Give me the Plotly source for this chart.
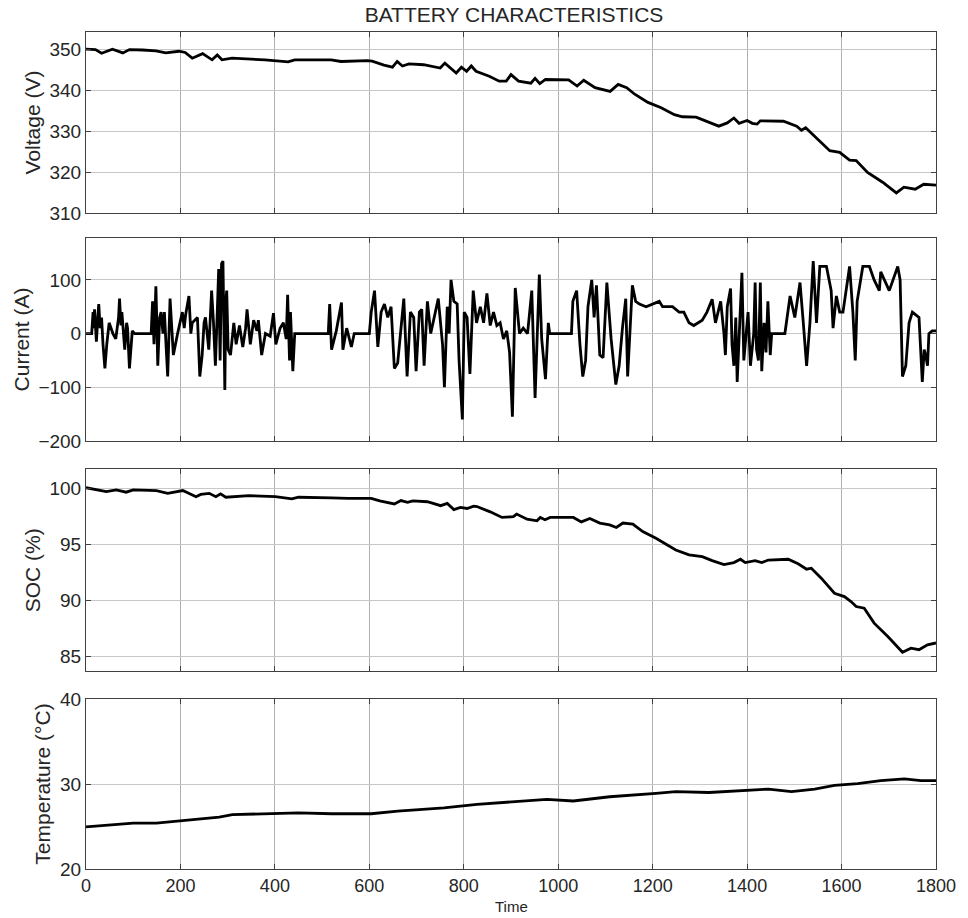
import plotly.graph_objects as go

# ---------------- data ----------------
volt_t = [0, 20, 33, 45, 56, 78, 92, 120, 148, 169, 197, 210, 225, 247, 267, 278, 288, 309, 379, 428,
          442, 519, 540, 596, 606, 631, 649, 659, 670, 684, 715, 750, 760, 784, 795, 806, 816, 826,
          854, 875, 890, 900, 916, 942, 951, 961, 973, 1022, 1040, 1054, 1078, 1110, 1127, 1145,
          1162, 1190, 1218, 1246, 1263, 1292, 1316, 1340, 1358, 1372, 1383, 1400, 1411, 1421, 1428,
          1477, 1505, 1515, 1524, 1540, 1575, 1596, 1617, 1631, 1655, 1687, 1716, 1732, 1756, 1774, 1800]
volt_v = [350.0, 349.9, 349.0, 349.6, 350.0, 349.1, 349.9, 349.8, 349.6, 349.1, 349.5, 349.2, 347.8,
          348.9, 347.4, 348.6, 347.4, 347.8, 347.4, 346.9, 347.4, 347.4, 347.0, 347.2, 347.1, 346.1,
          345.6, 347.0, 345.9, 346.4, 346.2, 345.4, 346.6, 344.2, 345.6, 344.6, 345.9, 344.6, 343.4,
          342.2, 342.2, 343.8, 342.2, 341.7, 342.9, 341.6, 342.6, 342.5, 341.0, 342.4, 340.6, 339.7,
          341.4, 340.6, 339.0, 337.0, 335.7, 334.0, 333.5, 333.4, 332.3, 331.2, 332.0, 333.2, 331.9,
          332.6, 331.9, 331.7, 332.5, 332.4, 331.2, 330.2, 330.8, 329.0, 325.2, 324.8, 322.9, 322.8,
          319.9, 317.5, 314.9, 316.3, 315.8, 317.0, 316.8]

curr_t = [0, 12, 15, 17, 18, 20, 22, 25, 27, 30, 33, 36, 40, 44, 49, 57, 63, 69, 71, 74, 76, 82, 86,
          88, 92, 98, 103, 138, 141, 144, 148, 150, 152, 156, 159, 163, 166, 170, 173, 178, 182, 185,
          194, 204, 208, 211, 218, 222, 225, 236, 241, 246, 250, 253, 260, 266, 270, 274, 278, 281,
          284, 287, 290, 294, 296, 298, 301, 306, 313, 318, 325, 332, 338, 341, 348, 355, 362, 365,
          372, 380, 390, 397, 402, 411, 418, 424, 427, 431, 433, 436, 438, 442, 513, 516, 520, 530,
          541, 544, 552, 562, 568, 572, 600, 604, 611, 618, 625, 632, 639, 646, 653, 660, 667, 673,
          680, 687, 694, 699, 706, 711, 716, 723, 730, 737, 746, 755, 759, 765, 769, 773, 779, 786,
          790, 797, 801, 807, 813, 820, 827, 835, 842, 849, 856, 863, 870, 877, 884, 891, 897, 903,
          909, 918, 926, 935, 944, 951, 960, 965, 973, 979, 982, 1028, 1031, 1039, 1046, 1052, 1058,
          1063, 1071, 1076, 1081, 1088, 1095, 1103, 1112, 1122, 1129, 1136, 1143, 1147, 1154, 1157,
          1164, 1172, 1186, 1200, 1214, 1221, 1242, 1256, 1266, 1277, 1287, 1305, 1315, 1326, 1333,
          1344, 1351, 1354, 1358, 1365, 1368, 1372, 1376, 1379, 1384, 1389, 1393, 1396, 1402, 1407,
          1414, 1417, 1420, 1424, 1428, 1431, 1436, 1440, 1444, 1449, 1452, 1480, 1491, 1501, 1512,
          1519, 1526, 1533, 1540, 1547, 1554, 1568, 1578, 1582, 1589, 1596, 1603, 1617, 1624, 1629,
          1633, 1645, 1659, 1669, 1680, 1683, 1701, 1719, 1724, 1729, 1736, 1743, 1750, 1764, 1768,
          1771, 1775, 1778, 1782, 1785, 1792, 1800]
curr_a = [0, 0, 40, 10, 45, 5, -15, 30, 55, 10, 30, -20, -65, -20, 20, 0, -10, 30, 65, 15, 40, -30,
          20, 10, -65, 5, 0, 0, 60, -20, 88, 20, -60, 30, 40, 0, 40, -30, -80, 65, 0, -40,
          0, 40, 10, 35, 70, 0, 20, 30, -80, -40, 20, 30, -30, 80, 20, -60, 40, 120,
          -50, 130, 135, -105, 60, 80, -30, -40, 20, -20, 15, -25, 10, 45, -20, 25, 5, 25,
          -40, 0, -5, 38, -20, 10, 20, -10, 72, -50, 40, -30, -70, 0, 0, 55, -30, 5,
          58, -30, 10, -25, 0, 0, 0, 40, 80, -25, 40, 55, 30, 50, -65, -55, 10, 65,
          -80, 40, 30, -70, 40, 45, -60, 60, 0, 30, 65, -20, -100, 50, 0, 100, 60, 55,
          -50, -160, 40, 30, -75, 80, 20, 50, 20, 75, 15, 40, 15, 20, -10, 5, -35, -155,
          85, 0, 10, 0, 80, -120, 110, -10, -85, 20, 0, 0, 60, 80, -20, -80, -50,
          50, 100, 30, 90, -40, -45, 95, -10, -95, -60, 10, 65, -80, 50, 90,
          60, 55, 50, 55, 60, 50, 50, 40, 40, 20, 15, 25, 40, 64, 20,
          60, 0, -40, 50, 84, -20, -60, 30, -90, 0, 113, -50, -20, 40, -60,
          0, 95, -30, -50, 95, -70, 20, -35, 60, -40, 0, 0, 70, 30, 95,
          20, -60, 20, 135, 20, 125, 125, 80, 10, 70, 40, 40, 125, 40, -50,
          60, 125, 125, 100, 80, 115, 80, 125, 100, -80, -60, 20, 40, 30, -50,
          -90, -30, -40, -60, 0, 5, 5]

soc_t = [0, 22, 43, 64, 85, 100, 149, 173, 205, 233, 243, 261, 275, 285, 296, 345, 401, 436, 450,
         520, 555, 604, 622, 653, 667, 681, 692, 723, 751, 765, 779, 793, 807, 821, 828, 856, 881,
         905, 912, 934, 955, 962, 972, 983, 1032, 1049, 1067, 1088, 1109, 1123, 1137, 1158, 1179,
         1207, 1249, 1277, 1305, 1326, 1351, 1372, 1386, 1396, 1417, 1431, 1445, 1487, 1508, 1526,
         1536, 1557, 1585, 1606, 1620, 1631, 1648, 1669, 1698, 1729, 1747, 1764, 1782, 1800]
soc_v = [100.05, 99.85, 99.7, 99.85, 99.65, 99.85, 99.8, 99.55, 99.8, 99.25, 99.45, 99.55, 99.25,
         99.5, 99.2, 99.35, 99.25, 99.05, 99.2, 99.15, 99.1, 99.1, 98.87, 98.6, 98.9, 98.75, 98.87,
         98.8, 98.45, 98.65, 98.1, 98.3, 98.2, 98.4, 98.37, 97.9, 97.4, 97.47, 97.7, 97.24, 97.1,
         97.4, 97.2, 97.4, 97.4, 97.0, 97.3, 96.9, 96.73, 96.5, 96.9, 96.8, 96.14, 95.54, 94.5,
         94.06, 93.9, 93.55, 93.2, 93.37, 93.67, 93.37, 93.55, 93.37, 93.6, 93.67, 93.26, 92.78,
         92.87, 91.98, 90.64, 90.34, 89.9, 89.45, 89.3, 87.97, 86.78, 85.38, 85.74, 85.6, 86.04,
         86.2]

temp_t = [0, 50, 100, 149, 205, 282, 310, 380, 450, 520, 604, 660, 758, 828, 905, 976, 1032, 1109,
          1207, 1249, 1319, 1389, 1445, 1494, 1543, 1585, 1634, 1683, 1733, 1768, 1800]
temp_v = [24.95, 25.15, 25.4, 25.4, 25.7, 26.1, 26.4, 26.5, 26.6, 26.5, 26.5, 26.8, 27.2, 27.6,
          27.9, 28.2, 28.0, 28.5, 28.9, 29.1, 29.0, 29.2, 29.4, 29.1, 29.4, 29.85, 30.05, 30.4,
          30.6, 30.4, 30.4]

x_ticks = [0, 200, 400, 600, 800, 1000, 1200, 1400, 1600, 1800]
y_labels = ["Voltage (V)", "Current (A)", "SOC (%)", "Temperature (\u00b0C)"]
y_ticks = [[310, 320, 330, 340, 350], [-200, -100, 0, 100], [85, 90, 95, 100], [20, 30, 40]]
y_ranges = [[310, 354.2], [-200, 178], [83.66, 101.72], [20, 40]]
domains = [[0.7838, 1.0], [0.5114, 0.7539], [0.2360, 0.4779], [0.0, 0.2031]]
series = [(volt_t, volt_v), (curr_t, curr_a), (soc_t, soc_v), (temp_t, temp_v)]

FONT = "Liberation Sans, Arial, sans-serif"
TXT = "#262626"
AX = "#404040"

fig = go.Figure()
layout = {}
for i, (xs, ys) in enumerate(series):
    n = i + 1
    xa = "x" if n == 1 else f"x{n}"
    ya = "y" if n == 1 else f"y{n}"
    fig.add_trace(go.Scatter(x=xs, y=ys, mode="lines", xaxis=xa, yaxis=ya,
                             line=dict(color="black", width=2.8), showlegend=False,
                             hoverinfo="skip"))
    xkey = "xaxis" if n == 1 else f"xaxis{n}"
    ykey = "yaxis" if n == 1 else f"yaxis{n}"
    layout[xkey] = dict(
        domain=[0, 1], anchor=ya, range=[0, 1800], tickvals=x_ticks,
        showticklabels=(n == 4), ticks="inside", ticklen=5, tickcolor=AX,
        showline=True, linecolor=AX, linewidth=1, mirror="ticks",
        showgrid=True, gridcolor="#b0b0b0", gridwidth=1, zeroline=False,
        tickfont=dict(family=FONT, size=18, color=TXT),
        matches=None if n == 1 else "x",
    )
    layout[ykey] = dict(
        domain=domains[i], anchor=xa, range=y_ranges[i], tickvals=y_ticks[i],
        ticks="inside", ticklen=5, tickcolor=AX,
        showline=True, linecolor=AX, linewidth=1, mirror="ticks",
        showgrid=True, gridcolor="#c8c8c8", gridwidth=1, zeroline=False,
        tickfont=dict(family=FONT, size=19, color=TXT),
        title=dict(text=y_labels[i], font=dict(family=FONT, size=21, color=TXT), standoff=3),
    )

fig.update_layout(
    width=968, height=918,
    margin=dict(l=86, r=26, t=32, b=49),
    paper_bgcolor="white", plot_bgcolor="white",
    title=dict(text="BATTERY CHARACTERISTICS", x=514 / 968, xanchor="center",
               y=1 - 15 / 918, yanchor="middle",
               font=dict(family=FONT, size=21, color=TXT)),
    **layout,
)
fig.add_annotation(text="Time", xref="paper", yref="paper", x=0.5, y=-0.0575,
                   xanchor="center", yanchor="bottom", showarrow=False,
                   font=dict(family=FONT, size=15, color=TXT))

fig.write_html("out.html")
